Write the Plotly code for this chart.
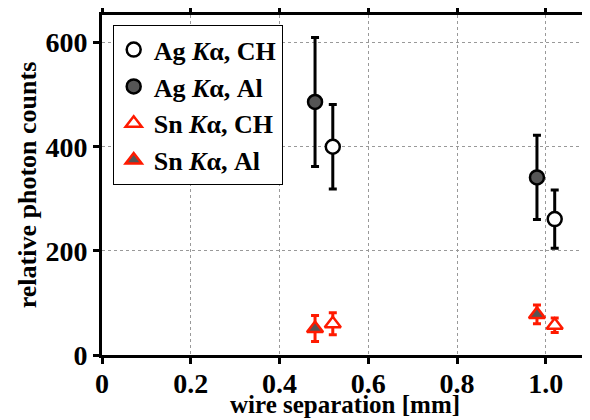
import plotly.graph_objects as go

# Data
sep_al = [0.48, 0.98]
sep_ch = [0.52, 1.02]
ag_ch = [400, 261]
ag_ch_err = [81, 56]
ag_al = [486, 341]
ag_al_err = [124, 81]
sn_ch = [60, 57]
sn_ch_err = [21, 14]
sn_al = [51, 78]
sn_al_err = [25, 18]

x_ticks = [0, 0.2, 0.4, 0.6, 0.8, 1.0]
x_ticklabels = ["0", "0.2", "0.4", "0.6", "0.8", "1.0"]
y_ticks = [0, 200, 400, 600]
y_ticklabels = ["0", "200", "400", "600"]

FONT = "Liberation Serif"
RED = "#ff1a00"

def trace(x, y, err, name, symbol, fill, line, errcolor):
    return go.Scatter(
        x=x, y=y, mode="markers", name=name,
        marker=dict(symbol=symbol, size=14, color=fill,
                    line=dict(color=line, width=2.5)),
        error_y=dict(type="data", array=err, visible=True,
                     color=errcolor, thickness=3, width=4),
    )

fig = go.Figure()
fig.add_trace(trace(sep_ch, ag_ch, ag_ch_err, "<b>Ag <i>K</i>α, CH</b>",
                    "circle", "white", "black", "black"))
fig.add_trace(trace(sep_al, ag_al, ag_al_err, "<b>Ag <i>K</i>α, Al</b>",
                    "circle", "#555555", "black", "black"))
fig.add_trace(trace(sep_ch, sn_ch, sn_ch_err, "<b>Sn <i>K</i>α, CH</b>",
                    "triangle-up", "white", RED, RED))
fig.add_trace(trace(sep_al, sn_al, sn_al_err, "<b>Sn <i>K</i>α, Al</b>",
                    "triangle-up", "#555555", RED, RED))

axis_common = dict(
    showline=True, linecolor="black", linewidth=3, mirror="allticks",
    ticks="outside", ticklen=6, tickwidth=3, tickcolor="black",
    showgrid=True, gridcolor="#999999", griddash="dot", gridwidth=1,
    zeroline=False, automargin=False,
    tickfont=dict(family=FONT, size=28, color="black"),
)

fig.update_xaxes(
    range=[0, 1.095], tickvals=x_ticks,
    ticktext=["<b>%s</b>" % t for t in x_ticklabels],
    ticklabelstandoff=-5,
    **axis_common,
)
fig.update_yaxes(
    range=[0, 653], tickvals=y_ticks,
    ticktext=["<b>%s</b>" % t for t in y_ticklabels],
    title=dict(text="<b>relative photon counts</b>", standoff=2,
               font=dict(family=FONT, size=26, color="black")),
    **axis_common,
)

# x-axis title placed at the bottom edge of the figure
fig.add_annotation(
    text="<b>wire separation [mm]</b>", xref="paper", yref="paper",
    x=0.5, y=-65 / 340, xanchor="center", yanchor="bottom",
    showarrow=False, font=dict(family=FONT, size=25, color="black"),
)

# page body has an 8px margin, so the figure is offset by 8px
fig.update_layout(
    width=582, height=412,
    margin=dict(l=94, r=2, t=7, b=65),
    plot_bgcolor="white", paper_bgcolor="white",
    font=dict(family=FONT, color="black"),
    legend=dict(
        x=0.022, y=0.97, xanchor="left", yanchor="top",
        bgcolor="white", bordercolor="black", borderwidth=1,
        font=dict(family=FONT, size=26, color="black"),
        tracegroupgap=0, itemwidth=30,
    ),
)

fig.write_html("out.html")
